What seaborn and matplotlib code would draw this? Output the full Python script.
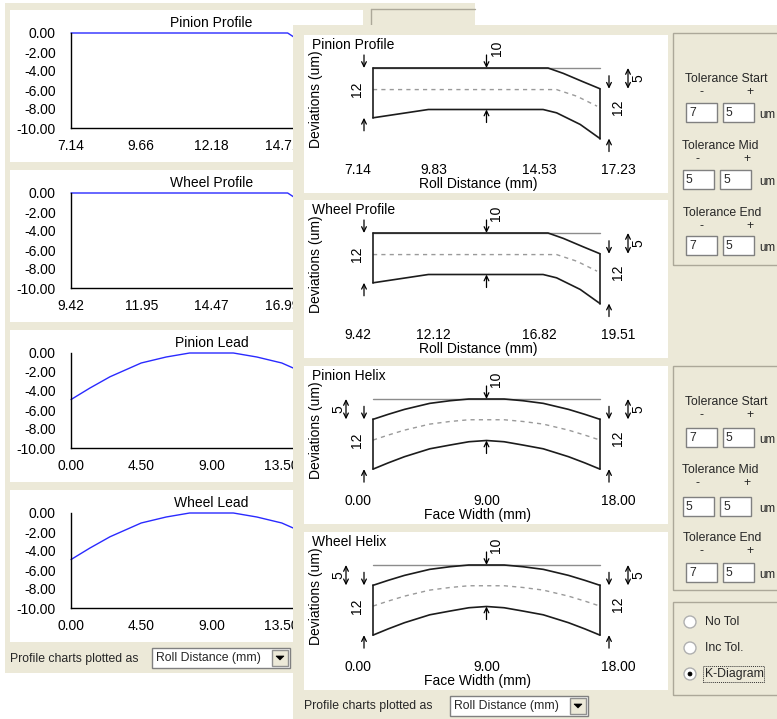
import numpy as np
import matplotlib
matplotlib.use("Agg")
import matplotlib.pyplot as plt
from matplotlib.patches import Rectangle, Ellipse, Polygon
from matplotlib.lines import Line2D
from matplotlib.ticker import AutoMinorLocator
from matplotlib.transforms import offset_copy, blended_transform_factory
import seaborn as sns

sns.set_style("white")
plt.rcParams["font.family"] = ["Liberation Sans", "DejaVu Sans"]
plt.rcParams["axes.unicode_minus"] = False

# ---------------------------------------------------------------- data
pinion_roll_ticks = [7.14, 9.66, 12.18, 14.71, 17.23]
wheel_roll_ticks = [9.42, 11.95, 14.47, 16.99, 19.51]
face_width_ticks = [0.00, 4.50, 9.00, 13.50, 18.00]
dev_ticks = [0, -2, -4, -6, -8, -10]

pinion_k_ticks = [7.14, 9.83, 14.53, 17.23]
wheel_k_ticks = [9.42, 12.12, 16.82, 19.51]
helix_k_ticks = [0.00, 9.00, 18.00]

# measured profile deviation (um) against roll distance (mm)
pinion_profile_x = [7.14, 14.92, 15.60, 16.47, 17.23]
pinion_profile_dev = [0.0, 0.0, -1.3, -3.3, -5.0]
wheel_profile_x = [9.42, 17.20, 17.88, 18.75, 19.51]
wheel_profile_dev = [0.0, 0.0, -1.3, -3.3, -5.0]

# measured lead deviation (um) against face width (mm)
lead_x = [0.0, 1.2, 2.5, 4.5, 6.1, 7.6, 9.0, 10.4, 11.9, 13.5, 15.5, 16.8, 18.0]
pinion_lead_dev = [-4.9, -3.7, -2.5, -1.05, -0.42, 0.0, 0.0, 0.0, -0.42, -1.05, -2.5, -3.7, -4.9]
wheel_lead_dev = [-4.9, -3.7, -2.5, -1.05, -0.42, 0.0, 0.0, 0.0, -0.42, -1.05, -2.5, -3.7, -4.9]

# K-diagram nominal (dashed) and lower limit lines
pinion_profile_nom_x = [7.14, 15.30, 16.20, 17.10]
pinion_profile_nom = [-5.2, -5.2, -6.8, -9.2]
pinion_profile_low_x = [7.14, 9.60, 14.70, 15.30, 16.35, 17.23]
pinion_profile_low = [-12.0, -10.0, -10.0, -10.8, -13.6, -17.0]
wheel_profile_nom_x = [9.42, 17.58, 18.48, 19.38]
wheel_profile_nom = [-5.2, -5.2, -6.8, -9.2]
wheel_profile_low_x = [9.42, 11.88, 16.98, 17.58, 18.63, 19.51]
wheel_profile_low = [-12.0, -10.0, -10.0, -10.8, -13.6, -17.0]

pinion_helix_nom = [-9.9, -8.7, -7.5, -6.05, -5.42, -5.0, -5.0, -5.0, -5.42, -6.05, -7.5, -8.7, -9.9]
pinion_helix_low = [-16.9, -15.4, -13.9, -12.0, -11.1, -10.3, -10.0, -10.3, -11.1, -12.0, -13.9, -15.4, -16.9]
wheel_helix_nom = [-9.9, -8.7, -7.5, -6.05, -5.42, -5.0, -5.0, -5.0, -5.42, -6.05, -7.5, -8.7, -9.9]
wheel_helix_low = [-16.9, -15.4, -13.9, -12.0, -11.1, -10.3, -10.0, -10.3, -11.1, -12.0, -13.9, -15.4, -16.9]

# tolerance settings (start, mid, end)
profile_tol_minus = [7, 5, 7]
profile_tol_plus = [5, 5, 5]
helix_tol_minus = [7, 5, 7]
helix_tol_plus = [5, 5, 5]

tol_names = ["Tolerance Start", "Tolerance Mid", "Tolerance End"]
radio_options = ["No Tol", "Inc Tol.", "K-Diagram"]
radio_selected = 2
plot_mode = "Roll Distance (mm)"

# ---------------------------------------------------------------- layout helpers
W, H, DPI = 777, 719, 100
FACE = "#ECE9D8"
EDGE = "#ACA899"
CHART_FS = 10
GUI_FS = 8.8
PX_PER_UM = 4.15

fig = plt.figure(figsize=(W / DPI, H / DPI), dpi=DPI)
fig.patch.set_facecolor("white")


def box(x, y, w, h, z, fc="none", ec="none", lw=1.0, ls="-"):
    r = Rectangle((x / W, 1 - (y + h) / H), w / W, h / H, transform=fig.transFigure,
                  facecolor=fc, edgecolor=ec, lw=lw, ls=ls, zorder=z)
    fig.add_artist(r)
    return r


def hline(x0, x1, y, z, color=EDGE, lw=1.0):
    fig.add_artist(Line2D([x0 / W, x1 / W], [1 - y / H, 1 - y / H], transform=fig.transFigure,
                          color=color, lw=lw, zorder=z))


def vline(x, y0, y1, z, color=EDGE, lw=1.0):
    fig.add_artist(Line2D([x / W, x / W], [1 - y0 / H, 1 - y1 / H], transform=fig.transFigure,
                          color=color, lw=lw, zorder=z))


def label(x, y, s, z, size=GUI_FS, **kw):
    kw.setdefault("va", "center")
    kw.setdefault("ha", "left")
    return fig.text(x / W, 1 - y / H, s, fontsize=size, zorder=z, **kw)


def frame(x, y, w, h):
    return [x / W, 1 - (y + h) / H, w / W, h / H]


def combo(x, y, text, z):
    box(x, y, 138, 20, z, fc="white", ec="#808080")
    label(x + 4, y + 10, text, z + 0.01)
    box(x + 120, y + 2, 16, 16, z + 0.01, fc=FACE, ec="#909090")
    cx, cy = x + 128, y + 10
    tri = Polygon([((cx - 4) / W, 1 - (cy - 2) / H), ((cx + 4) / W, 1 - (cy - 2) / H),
                   (cx / W, 1 - (cy + 2) / H)], closed=True, transform=fig.transFigure,
                  facecolor="black", edgecolor="black", lw=0.5, zorder=z + 0.02)
    fig.add_artist(tri)


# ---------------------------------------------------------------- left window
box(5, 3, 470, 670, 0.1, fc=FACE)
hline(371, 475, 9, 0.15)
vline(371, 9, 60, 0.15)

left_specs = [
    (10, "Pinion Profile", pinion_profile_x, pinion_profile_dev, pinion_roll_ticks),
    (170, "Wheel Profile", wheel_profile_x, wheel_profile_dev, wheel_roll_ticks),
    (330, "Pinion Lead", lead_x, pinion_lead_dev, face_width_ticks),
    (490, "Wheel Lead", lead_x, wheel_lead_dev, face_width_ticks),
]
for top, title, xs, ys, ticks in left_specs:
    box(10, top, 353, 152, 0.2, fc="white")
    ax = fig.add_axes(frame(71, top + 23, 281, 95))
    ax.set_zorder(0.5)
    ax.patch.set_alpha(0)
    sns.lineplot(x=xs, y=ys, ax=ax, color="#2a2aff", lw=1.0, estimator=None, sort=False,
                 clip_on=False)
    ax.set_xlim(ticks[0], ticks[-1])
    ax.set_ylim(dev_ticks[-1], dev_ticks[0])
    ax.set_xticks(ticks)
    ax.set_xticklabels([f"{t:.2f}" for t in ticks])
    ax.set_yticks(dev_ticks)
    ax.set_yticklabels([f"{t:.2f}" for t in dev_ticks])
    ax.yaxis.set_minor_locator(AutoMinorLocator(5))
    for side in ("top", "right"):
        ax.spines[side].set_visible(False)
    for side in ("left", "bottom"):
        ax.spines[side].set_color("black")
        ax.spines[side].set_linewidth(1.0)
    ax.tick_params(axis="both", which="major", direction="out", length=3, width=1,
                   color="black", labelsize=CHART_FS, labelcolor="black")
    ax.tick_params(axis="x", pad=5)
    ax.tick_params(axis="y", pad=8)
    ax.tick_params(axis="y", which="minor", direction="in", length=2, width=0.8, color="#555555")
    ax.set_xlabel("")
    ax.set_ylabel("")
    ax.set_title(title, fontsize=CHART_FS, pad=4, color="black")

label(10, 659, "Profile charts plotted as", 0.6)
combo(152, 648, plot_mode, 0.6)

# ---------------------------------------------------------------- right window
box(293, 25, 490, 700, 1.0, fc=FACE)

PANEL_H = 158


def arrow(ax, x, y, dx, up):
    trans = offset_copy(ax.transData, fig=fig, x=dx, y=0, units="dots")
    ax.annotate("", xy=(x, y), xycoords=trans, xytext=(0, -13 if up else 13),
                textcoords="offset pixels",
                arrowprops=dict(arrowstyle="->,head_length=0.35,head_width=0.17", lw=0.9,
                                color="black", shrinkA=0, shrinkB=0))


def double_arrow(ax, x, y0, y1, dx):
    trans = offset_copy(ax.transData, fig=fig, x=dx, y=0, units="dots")
    ax.annotate("", xy=(x, y1), xycoords=trans, xytext=(x, y0), textcoords=trans,
                arrowprops=dict(arrowstyle="<->,head_length=0.35,head_width=0.17", lw=0.9,
                                color="black", shrinkA=0, shrinkB=0))


def rot_text(ax, x, y, s, dx, dy=0):
    trans = offset_copy(ax.transData, fig=fig, x=dx, y=dy, units="dots")
    ax.text(x, y, s, transform=trans, rotation=90, ha="center", va="center",
            fontsize=CHART_FS, color="black")


def kdiagram(top, title, xlabel, ticks, up_x, up_y, nom_x, nom_y, lo_x, lo_y, minus, plus):
    box(304, top, 364, PANEL_H, 1.1, fc="white")
    ax = fig.add_axes(frame(304, top, 364, PANEL_H))
    ax.set_zorder(2)
    ax.patch.set_alpha(0)
    x0, x1 = ticks[0], ticks[-1]
    s = (x1 - x0) / 227.0
    ax.set_xlim(x0 - 69 * s, x1 + 68 * s)
    ax.set_ylim(-(PANEL_H - 33) / PX_PER_UM, 33 / PX_PER_UM)

    ax.plot([x0, x1], [0, 0], color="#8c8c8c", lw=1.0)
    sns.lineplot(x=nom_x, y=nom_y, ax=ax, color="#9a9a9a", lw=1.0, ls=(0, (3, 3)),
                 estimator=None, sort=False)
    sns.lineplot(x=up_x, y=up_y, ax=ax, color="#1c1c1c", lw=1.2, estimator=None, sort=False)
    sns.lineplot(x=lo_x, y=lo_y, ax=ax, color="#1c1c1c", lw=1.2, estimator=None, sort=False)
    ax.plot([up_x[0], lo_x[0]], [up_y[0], lo_y[0]], color="#1c1c1c", lw=1.2)
    ax.plot([up_x[-1], lo_x[-1]], [up_y[-1], lo_y[-1]], color="#1c1c1c", lw=1.2)
    ax.axis("off")

    # tolerance markers
    widths = [m + p for m, p in zip(minus, plus)]
    mid = (x0 + x1) / 2
    up_mid = float(np.interp(mid, up_x, up_y))
    lo_mid = float(np.interp(mid, lo_x, lo_y))
    arrow(ax, x0, up_y[0], -9, up=False)
    arrow(ax, x0, lo_y[0], -9, up=True)
    arrow(ax, mid, up_mid, 0, up=False)
    arrow(ax, mid, lo_mid, 0, up=True)
    arrow(ax, x1, up_y[-1], 9, up=False)
    arrow(ax, x1, lo_y[-1], 9, up=True)
    rot_text(ax, x0, (up_y[0] + lo_y[0]) / 2, str(widths[0]), -16, 4)
    rot_text(ax, mid, up_mid, str(widths[1]), 10, 20)
    rot_text(ax, x1, (up_y[-1] + lo_y[-1]) / 2, str(widths[2]), 18, 6)
    end_relief = int(round(-up_y[-1]))
    if end_relief:
        double_arrow(ax, x1, 0, up_y[-1], 28)
        rot_text(ax, x1, up_y[-1] / 2, str(end_relief), 38)
    start_relief = int(round(-up_y[0]))
    if start_relief:
        double_arrow(ax, x0, 0, up_y[0], -27)
        rot_text(ax, x0, up_y[0] / 2, str(start_relief), -35)

    # axis text
    bt = blended_transform_factory(ax.transData, ax.transAxes)
    ty = 1 - 135 / PANEL_H
    for i, t in enumerate(ticks):
        dx = -15 if i == 0 else (18 if i == len(ticks) - 1 else 0)
        ax.text(t, ty, f"{t:.2f}", transform=offset_copy(bt, fig=fig, x=dx, y=0, units="dots"),
                ha="center", va="center", fontsize=CHART_FS, color="black")
    ax.text((478 - 304) / 364, 1 - 149 / PANEL_H, xlabel, transform=ax.transAxes,
            ha="center", va="center", fontsize=CHART_FS, color="black")
    ax.text((312 - 304) / 364, 1 - 10 / PANEL_H, title, transform=ax.transAxes,
            ha="left", va="center", fontsize=CHART_FS, color="black")
    ax.text((316 - 304) / 364, 1 - 64 / PANEL_H, "Deviations (um)", transform=ax.transAxes,
            ha="center", va="center", rotation=90, fontsize=CHART_FS, color="black")


kdiagram(35, "Pinion Profile", "Roll Distance (mm)", pinion_k_ticks,
         pinion_profile_x, pinion_profile_dev, pinion_profile_nom_x, pinion_profile_nom,
         pinion_profile_low_x, pinion_profile_low, profile_tol_minus, profile_tol_plus)
kdiagram(200, "Wheel Profile", "Roll Distance (mm)", wheel_k_ticks,
         wheel_profile_x, wheel_profile_dev, wheel_profile_nom_x, wheel_profile_nom,
         wheel_profile_low_x, wheel_profile_low, profile_tol_minus, profile_tol_plus)
kdiagram(366, "Pinion Helix", "Face Width (mm)", helix_k_ticks,
         lead_x, pinion_lead_dev, lead_x, pinion_helix_nom,
         lead_x, pinion_helix_low, helix_tol_minus, helix_tol_plus)
kdiagram(532, "Wheel Helix", "Face Width (mm)", helix_k_ticks,
         lead_x, wheel_lead_dev, lead_x, wheel_helix_nom,
         lead_x, wheel_helix_low, helix_tol_minus, helix_tol_plus)


# ---------------------------------------------------------------- tolerance panels
def tol_group(gtop, gh, title_y, box_y, title_x, box_x, minus, plus):
    box(673, gtop, 120, gh, 3, ec=EDGE)
    for i, name in enumerate(tol_names):
        label(title_x[i], title_y[i], name, 3.1)
        label(box_x[i] + 15, title_y[i] + 13, "-", 3.1, ha="center")
        label(box_x[i] + 64, title_y[i] + 13, "+", 3.1, ha="center")
        box(box_x[i], box_y[i], 31, 19, 3.1, fc="white", ec="#808080")
        box(box_x[i] + 37, box_y[i], 31, 19, 3.1, fc="white", ec="#808080")
        label(box_x[i] + 3, box_y[i] + 10, str(minus[i]), 3.2)
        label(box_x[i] + 40, box_y[i] + 10, str(plus[i]), 3.2)
        label(759, box_y[i] + 12, "um", 3.2, size=8.4)


tol_group(33, 232, [79, 146, 213], [103, 170, 236], [685, 682, 683], [686, 683, 686],
          profile_tol_minus, profile_tol_plus)
tol_group(366, 224, [402, 470, 538], [428, 497, 563], [685, 682, 683], [686, 683, 686],
          helix_tol_minus, helix_tol_plus)

# display mode radio buttons
box(673, 602, 120, 93, 3, ec=EDGE)
for i, opt in enumerate(radio_options):
    cy = 622 + 26 * i
    fig.add_artist(Ellipse((690 / W, 1 - cy / H), 12 / W, 12 / H, transform=fig.transFigure,
                           facecolor="white", edgecolor="#b0b0b0", lw=1.0, zorder=3.1))
    if i == radio_selected:
        fig.add_artist(Ellipse((690 / W, 1 - cy / H), 4 / W, 4 / H, transform=fig.transFigure,
                               facecolor="black", edgecolor="black", lw=0.5, zorder=3.2))
        box(703, cy - 8, 61, 16, 3.1, ec="#333333", lw=0.7, ls=(0, (1, 1)))
    label(705, cy, opt, 3.2)

label(304, 706, "Profile charts plotted as", 3)
combo(450, 696, plot_mode, 3)

fig.savefig("out.png", dpi=DPI, facecolor=fig.get_facecolor())
